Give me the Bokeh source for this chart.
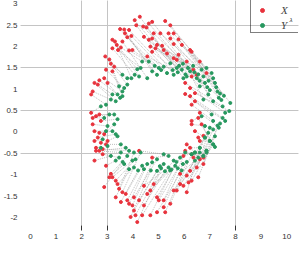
from bokeh.plotting import figure
from bokeh.models import Range1d, FixedTicker, Grid, Legend, LegendItem, Label
from bokeh.embed import file_html
from bokeh.resources import INLINE

# X points (red)
xr = [2.69,2.88,2.95,2.92,3.08,3.14,3.27,3.20,3.20,3.20,
      3.30,3.37,3.42,3.53,3.59,3.50,3.66,3.69,3.78,3.85,
      3.94,3.85,3.98,4.07,4.13,4.27,4.40,4.53,4.43,4.62,
      4.75,4.62,4.75,4.68,4.56,4.75,4.81,4.94,4.88,5.07,
      5.14,5.20,5.26,5.33,5.39,5.46,5.46,5.59,5.59,5.59,
      5.71,5.78,5.78,5.91,6.10,6.23,6.29,6.36,6.29,6.49,
      6.61,6.87,
      2.37,2.43,2.50,2.63,3.01,2.37,2.43,2.56,2.69,2.75,
      2.43,2.50,2.69,2.88,2.63,2.50,2.75,2.95,2.56,2.69,
      2.82,3.01,
      2.56,2.82,2.50,2.95,3.14,3.08,3.20,2.88,3.33,3.40,
      3.46,3.59,3.33,3.72,3.78,3.53,3.85,3.98,4.04,4.04,
      4.10,4.17,3.91,
      4.24,4.75,4.43,4.81,4.68,4.56,4.94,5.01,5.20,5.20,
      5.26,4.94,5.46,5.59,5.71,5.84,5.97,6.10,6.17,6.10,
      5.84,6.29,6.55,6.23,6.49,6.75,6.61,4.36,4.24,4.68,
      4.43,5.97,6.36,6.75,
      6.04,6.23,6.42,6.04,6.23,6.29,6.42,6.61,6.55,6.29,
      6.29,6.68,6.42,6.55,6.75,6.10,6.23,6.04,6.29,6.61]
yr = [1.21,1.26,1.46,1.77,1.70,1.60,1.53,1.42,1.96,2.16,
      2.12,2.04,1.92,1.98,2.12,2.41,2.40,2.31,2.22,2.39,
      2.25,1.91,1.92,2.62,2.50,2.70,2.47,2.45,2.23,2.54,
      2.58,2.16,2.19,2.00,1.77,1.88,2.31,2.04,1.96,2.31,
      2.02,1.92,2.60,1.84,2.31,2.50,2.19,2.31,2.06,1.73,
      1.69,2.17,1.81,2.04,1.65,1.92,1.88,1.46,1.30,1.34,
      1.65,1.38,
      0.88,0.95,1.15,1.11,1.15,0.45,0.33,0.37,0.41,0.26,
      0.18,0.02,-0.02,-0.05,-0.13,-0.21,-0.25,-0.29,-0.37,-0.44,
      -0.40,-0.21,
      -0.44,-0.52,-0.67,-0.79,-0.98,-1.06,-1.06,-1.29,-1.14,-1.22,
      -1.33,-1.41,-1.53,-1.45,-1.60,-1.64,-1.68,-1.72,-1.53,-1.84,
      -1.95,-2.11,-1.99,
      -0.44,-0.60,-1.26,-1.22,-1.37,-1.45,-1.53,-1.60,-1.60,-1.76,
      -1.88,-1.88,-1.68,-1.37,-1.37,-1.22,-1.26,-1.41,-1.18,-1.02,
      -0.98,-1.14,-1.06,-0.91,-0.83,-0.75,-0.64,-1.95,-1.60,-1.95,
      -1.72,-0.56,-0.60,-0.60,
      1.15,1.03,0.91,0.89,0.84,0.64,0.72,0.45,0.33,0.26,
      0.18,0.18,0.02,-0.13,-0.09,-0.29,-0.37,-0.44,-0.52,-0.21]

# Y^lambda points (green)
xg = [3.40,3.59,3.66,3.78,3.59,3.46,3.78,3.59,4.07,4.24,
      3.94,4.17,4.30,4.36,4.56,4.62,4.75,4.94,5.01,5.20,
      5.33,4.85,5.10,5.46,5.59,5.71,5.91,5.97,5.80,6.23,
      6.49,6.05,6.15,5.95,5.55,5.75,6.40,6.35,6.10,6.68,
      6.55,6.60,6.87,6.75,7.07,7.13,6.95,7.20,6.81,6.61,
      6.90,7.25,7.00,7.30,6.94,7.40,7.35,7.13,6.75,7.45,
      7.55,7.80,
      2.95,3.14,3.33,3.20,3.50,2.75,2.88,3.08,3.27,3.40,
      3.01,2.95,3.20,3.27,3.33,2.82,3.01,3.53,2.75,3.72,
      3.85,3.40,
      3.53,3.46,3.14,3.33,3.78,3.66,3.98,3.60,4.10,4.04,
      4.04,4.30,3.85,4.36,4.43,4.20,4.56,4.75,4.94,4.94,
      5.10,5.20,4.70,
      5.20,5.39,5.39,5.65,5.59,5.45,5.84,5.75,6.04,5.95,
      6.10,5.90,6.29,6.42,6.61,6.75,6.87,6.61,7.00,6.81,
      6.55,7.13,7.20,6.87,7.13,7.30,6.94,5.50,5.05,5.70,
      5.25,6.42,7.00,7.40,
      7.50,7.60,7.76,7.07,7.50,7.13,7.60,7.35,7.00,6.68,
      6.81,7.13,6.81,6.87,7.20,6.42,6.61,6.29,6.75,7.00]
yg = [0.88,0.95,1.03,1.11,1.34,1.07,1.26,0.84,1.34,1.30,
      1.26,1.47,1.50,1.65,1.26,1.65,1.42,1.34,1.50,1.53,
      1.38,1.55,1.45,1.61,1.34,1.50,1.46,1.26,1.55,1.42,
      1.26,1.35,1.50,1.60,1.45,1.40,1.40,1.55,1.30,1.46,
      1.35,1.20,1.50,1.30,1.38,1.26,1.20,1.15,1.15,1.07,
      1.05,1.05,0.98,0.95,0.88,0.90,0.80,0.72,0.76,0.75,
      0.85,0.68,
      0.64,0.76,0.72,0.88,0.80,0.60,0.33,0.41,0.41,0.30,
      0.14,0.02,0.02,0.18,-0.05,-0.17,-0.33,-0.29,-0.37,-0.37,
      -0.44,-0.10,
      -0.48,-0.60,-0.56,-0.67,-0.56,-0.75,-0.67,-0.70,-0.64,-0.83,
      -0.48,-0.48,-0.87,-0.79,-0.87,-0.90,-0.75,-0.71,-0.64,-0.91,
      -0.85,-0.75,-0.90,
      -0.52,-0.56,-0.83,-0.79,-0.67,-0.90,-0.60,-0.85,-0.48,-0.75,
      -0.70,-0.90,-0.52,-0.67,-0.48,-0.56,-0.48,-0.37,-0.21,-0.13,
      -0.60,-0.29,-0.10,-0.44,0.06,0.15,-0.02,-0.88,-0.80,-0.70,
      -0.92,-0.48,0.10,0.20,
      0.60,0.45,0.49,0.41,0.33,0.26,0.26,0.10,-0.21,0.37,
      0.14,-0.29,-0.13,-0.44,-0.35,-0.48,-0.37,-0.52,-0.56,-0.21]

x_ticks = [0, 1, 2, 3, 4, 5, 6, 7, 8, 9, 10]
y_ticks = [-2, -1.5, -1, -0.5, 0, 0.5, 1, 1.5, 2, 2.5, 3]
y_tick_labels = ["-2", "-1.5", "-1", "-0.5", "0", "0.5", "1", "1.5", "2", "2.5", "3"]
x_solid_grid = [2, 3, 8]
y_solid_grid = [2.5, 1.5, 0.5, -0.5]

RED = "#e8323c"
GREEN = "#27985f"

p = figure(width=300, height=250, x_range=Range1d(-0.386, 10.46), y_range=Range1d(-2.19, 3.08),
           output_backend="svg", toolbar_location=None,
           min_border_left=17, min_border_right=2, min_border_top=0, min_border_bottom=25)
p.outline_line_color = None

# minor dotted grid
minor_x = [i / 3 for i in range(-1, 33)]
minor_y = [i / 6 for i in range(-14, 19)]
p.add_layout(Grid(dimension=0, ticker=FixedTicker(ticks=minor_x), grid_line_color="#d6d6d6",
                  grid_line_dash="2 2", grid_line_width=1))
p.add_layout(Grid(dimension=1, ticker=FixedTicker(ticks=minor_y), grid_line_color="#d6d6d6",
                  grid_line_dash="2 2", grid_line_width=1))
p.xgrid.ticker = FixedTicker(ticks=x_solid_grid)
p.ygrid.ticker = FixedTicker(ticks=y_solid_grid)
p.xgrid.grid_line_color = "#c4c4c4"
p.ygrid.grid_line_color = "#c4c4c4"

p.xaxis.ticker = FixedTicker(ticks=x_ticks, minor_ticks=x_solid_grid)
p.yaxis.ticker = FixedTicker(ticks=y_ticks)
p.yaxis.major_label_overrides = {t: s for t, s in zip(y_ticks, y_tick_labels)}
for ax in (p.xaxis, p.yaxis):
    ax.axis_line_color = None
    ax.major_tick_line_color = None
    ax.major_tick_out = 0
    ax.major_tick_in = 0
    ax.major_label_text_font = "Liberation Sans"
    ax.major_label_text_font_size = "8px"
    ax.major_label_text_color = "#333333"
    ax.major_label_standoff = 3
p.yaxis.minor_tick_line_color = None
p.xaxis.minor_tick_line_color = "#333333"
p.xaxis.minor_tick_out = 5
p.xaxis.minor_tick_in = 0

p.segment(x0=xr, y0=yr, x1=xg, y1=yg, line_color="#9a9a9a", line_dash="1 1", line_width=0.8, line_alpha=0.8)
r_red = p.scatter(xr, yr, size=3, marker="circle", fill_color=RED, line_color=RED)
r_green = p.scatter(xg, yg, size=3, marker="circle", fill_color=GREEN, line_color=GREEN)
r_blank = p.scatter([], [], size=3, alpha=0)

legend = Legend(items=[LegendItem(label=" ", renderers=[r_blank]),
                       LegendItem(label="X", renderers=[r_red]),
                       LegendItem(label="Y", renderers=[r_green])],
                location=(230, 192), padding=1, spacing=3, margin=0,
                glyph_width=20, glyph_height=10, label_height=10, label_width=40,
                label_standoff=9, label_text_font="Liberation Serif",
                label_text_font_style="italic", label_text_font_size="11px",
                border_line_color="black", border_line_width=1.5,
                background_fill_alpha=0)
p.add_layout(legend)
p.add_layout(Label(x=10.11, y=2.52, text="λ", level="overlay",
                   text_font="Liberation Serif", text_font_style="italic", text_color="black",
                   text_font_size="7px", text_baseline="bottom"))

open("out.html", "w").write(file_html(p, INLINE))
